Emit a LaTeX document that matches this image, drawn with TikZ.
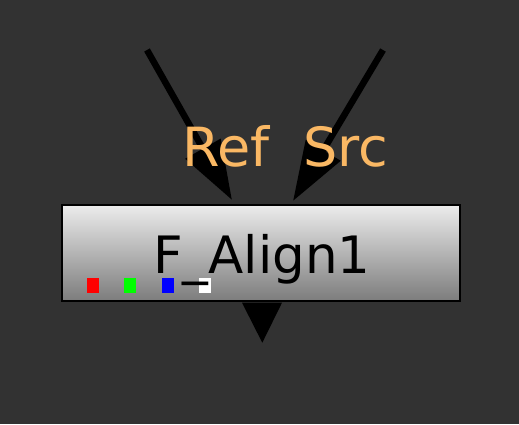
\documentclass[tikz,border=0pt]{standalone}
\usepackage{fontspec}
\setmainfont{DejaVu Sans}
\usetikzlibrary{arrows.meta}
\definecolor{bg}{RGB}{50,50,50}
\definecolor{lbl}{RGB}{250,184,100}
\definecolor{boxtop}{RGB}{236,236,236}
\definecolor{boxbot}{RGB}{124,124,124}
\tikzset{
  conn/.style={line width=6.5pt, draw=black, -{Triangle[length=59pt,width=39pt]}},
  portlbl/.style={text=lbl, font=\fontsize{54}{60}\selectfont, anchor=base, inner sep=0pt},
  tool/.style={draw=black, line width=1.2pt, top color=boxtop, bottom color=boxbot, minimum width=398pt, minimum height=96pt, inner sep=0pt},
  chan/.style={minimum width=12pt, minimum height=15pt, inner sep=0pt, anchor=north west},
}
\begin{document}
\begin{tikzpicture}[x=1pt,y=-1pt]
\useasboundingbox[fill=bg] (0,0) rectangle (519,424);
% connectors
\coordinate (refsrc) at (147,50);
\coordinate (refin) at (232,200);
\coordinate (srcsrc) at (383,50);
\coordinate (srcin) at (293,201);
\draw[conn] (refsrc) -- (refin);
\draw[conn] (srcsrc) -- (srcin);
% port labels
\node[portlbl] (reflbl) at (226,166.7) {Ref};
\node[portlbl] (srclbl) at (345.5,166.7) {Src};
% tool box
\node[tool] (box) at (260.9,253) {};
% channel squares
\node[chan, fill={rgb,255:red,255;green,0;blue,0}] (cr) at (87,278) {};
\node[chan, fill={rgb,255:red,0;green,255;blue,0}] (cg) at (123.7,278) {};
\node[chan, fill={rgb,255:red,0;green,0;blue,255}] (cb) at (162,278) {};
\node[chan, fill=white] (ca) at (199,278) {};
% title
\node[anchor=base, inner sep=0pt, font=\fontsize{51.5}{60}\selectfont, text=black] (title) at (261.8,273.3) {F\_Align1};
% output port
\fill[black] (242,302.7) -- (282,302.7) -- (262.3,342.7) -- cycle;
\end{tikzpicture}
\end{document}
